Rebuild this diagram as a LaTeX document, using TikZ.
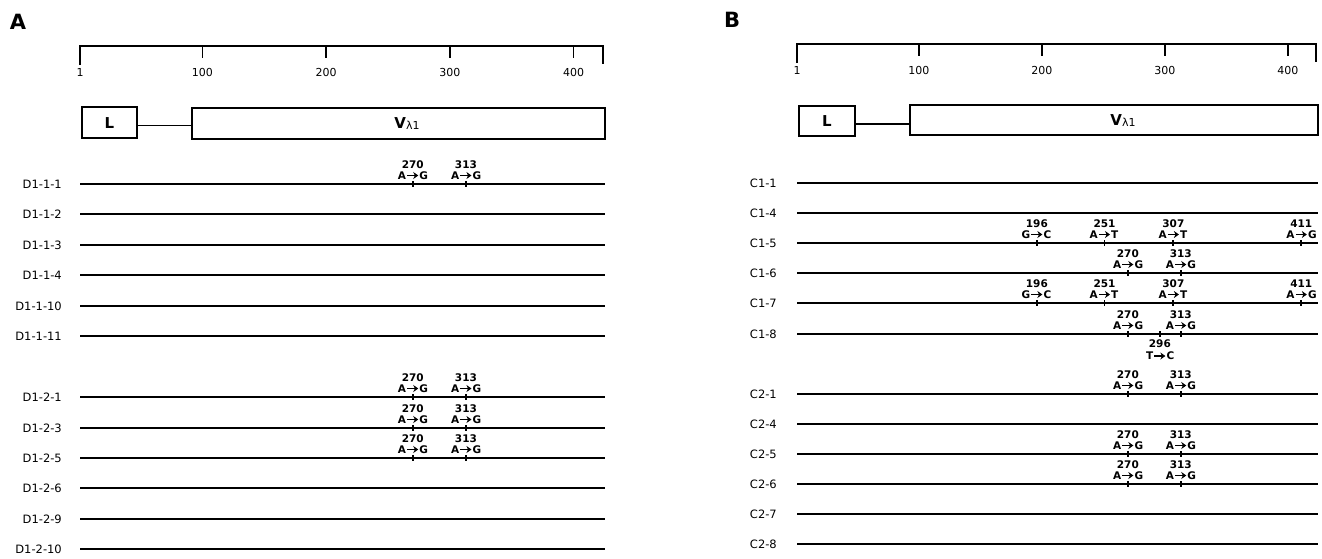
\documentclass[tikz,border=0pt]{standalone}
\usepackage{fontspec}
\setmainfont{DejaVu Sans}
\usetikzlibrary{arrows.meta,calc}
\newcommand\xa[1]{78.763+#1*1.237}
\newcommand\xb[1]{795.77+#1*1.23}
% #1 name, #2 x, #3 y, #4 number, #5 from, #6 to
\newcommand\mutup[6]{%
  \coordinate (#1) at ({#2},{#3});
  \draw[mtick] ({#2},{#3-3}) -- ({#2},{#3+3});
  \node[mnum] (#1n) at ({#2},{#3-19.5}) {#4};
  \node[mlet,anchor=east] (#1f) at ({#2-6},{#3-8.5}) {#5};
  \node[mlet,anchor=west] (#1t) at ({#2+6},{#3-8.5}) {#6};
  \draw[marr] (#1f.east) -- (#1t.west);
}
\newcommand\mutdown[6]{%
  \coordinate (#1) at ({#2},{#3});
  \draw[mtick] ({#2},{#3-3}) -- ({#2},{#3+3});
  \node[mnum] (#1n) at ({#2},{#3+10}) {#4};
  \node[mlet,anchor=east] (#1f) at ({#2-6},{#3+22}) {#5};
  \node[mlet,anchor=west] (#1t) at ({#2+6},{#3+22}) {#6};
  \draw[marr] (#1f.east) -- (#1t.west);
}
\begin{document}
\begin{tikzpicture}[x=1pt,y=-1pt,
  rowline/.style={line width=2pt},
  ruler/.style={line width=1.6pt},
  boxst/.style={draw,line width=1.6pt,inner sep=0pt},
  rlab/.style={font=\fontsize{11.5}{11.5}\selectfont,anchor=east,inner sep=0pt},
  tlab/.style={font=\fontsize{11}{11}\selectfont,inner sep=0pt},
  mnum/.style={font=\bfseries\fontsize{10.5}{10.5}\selectfont,inner sep=0pt},
  mlet/.style={font=\bfseries\fontsize{10.5}{10.5}\selectfont,inner sep=0.5pt},
  marr/.style={-{Stealth[length=5pt,width=7pt]},line width=1.6pt,shorten <=0.5pt,shorten >=0.5pt},
  mtick/.style={line width=1.8pt},
  panel/.style={font=\bfseries\fontsize{21}{21}\selectfont,inner sep=0pt},
  btext/.style={font=\bfseries\fontsize{15}{15}\selectfont,inner sep=0pt}]
\useasboundingbox (0,0) rectangle (1322,558);

% ---------------- Panel A ----------------
\node[panel] (pA) at (18,22) {A};
% ruler
\draw[ruler] ({\xa{1}},65) -- ({\xa{1}},46) -- (603,46) -- (603,64);
\foreach \p in {100,200,300,400} {
  \draw[ruler] ({\xa{\p}},46) -- ({\xa{\p}},58);
  \node[tlab] (tA\p) at ({\xa{\p}},72) {\p};
}
\node[tlab] (tA1) at ({\xa{1}},72) {1};
% gene map
\node[boxst,minimum width=55pt,minimum height=31pt] (LA) at (109.5,122.5) {};
\node[btext] (LAt) at (109.5,123) {L};
\node[boxst,minimum width=413pt,minimum height=31pt] (VA) at (398.5,123.5) {};
\node[btext] (VAt) at (407,124) {V\raisebox{-1pt}{\mdseries\fontsize{11}{11}\selectfont λ1}};
\draw[line width=1.6pt] ($(LA.east)+(0,3)$) -- ($(VA.west)+(0,2)$);
% rows
\foreach \k/\t in {0/D1-1-1,1/D1-1-2,2/D1-1-3,3/D1-1-4,4/D1-1-10,5/D1-1-11,
                   7/D1-2-1,8/D1-2-3,9/D1-2-5,10/D1-2-6,11/D1-2-9,12/D1-2-10} {
  \pgfmathsetmacro\yy{round(184+30.45*\k)}
  \node[rlab] (la\k) at (62,\yy) {\t};
  \coordinate (sa\k) at (80,\yy);
  \coordinate (ea\k) at (605,\yy);
  \draw[rowline] (sa\k) -- (ea\k);
}
\mutup{ma0a}{\xa{270}}{184}{270}{A}{G}
\mutup{ma0b}{\xa{313}}{184}{313}{A}{G}
\mutup{ma7a}{\xa{270}}{397}{270}{A}{G}
\mutup{ma7b}{\xa{313}}{397}{313}{A}{G}
\mutup{ma8a}{\xa{270}}{428}{270}{A}{G}
\mutup{ma8b}{\xa{313}}{428}{313}{A}{G}
\mutup{ma9a}{\xa{270}}{458}{270}{A}{G}
\mutup{ma9b}{\xa{313}}{458}{313}{A}{G}

% ---------------- Panel B ----------------
\node[panel] (pB) at (732,20) {B};
\draw[ruler] ({\xb{1}},63) -- ({\xb{1}},44) -- (1316,44) -- (1316,62);
\foreach \p in {100,200,300,400} {
  \draw[ruler] ({\xb{\p}},44) -- ({\xb{\p}},56);
  \node[tlab] (tB\p) at ({\xb{\p}},70) {\p};
}
\node[tlab] (tB1) at ({\xb{1}},70) {1};
\node[boxst,minimum width=56pt,minimum height=30pt] (LB) at (827,121) {};
\node[btext] (LBt) at (827,121.5) {L};
\node[boxst,minimum width=408pt,minimum height=30pt] (VB) at (1114,120) {};
\node[btext] (VBt) at (1123,121) {V\raisebox{-1pt}{\mdseries\fontsize{11}{11}\selectfont λ1}};
\draw[line width=1.6pt] ($(LB.east)+(0,3)$) -- ($(VB.west)+(0,4)$);
\foreach \k/\t in {0/C1-1,1/C1-4,2/C1-5,3/C1-6,4/C1-7,5/C1-8,
                   7/C2-1,8/C2-4,9/C2-5,10/C2-6,11/C2-7,12/C2-8} {
  \pgfmathsetmacro\yy{round(183+30.1*\k)}
  \node[rlab] (lb\k) at (777,\yy) {\t};
  \coordinate (sb\k) at (797,\yy);
  \coordinate (eb\k) at (1318,\yy);
  \draw[rowline] (sb\k) -- (eb\k);
}
% C1-5
\mutup{mb2a}{\xb{196}}{243}{196}{G}{C}
\mutup{mb2b}{\xb{251}}{243}{251}{A}{T}
\mutup{mb2c}{\xb{307}}{243}{307}{A}{T}
\mutup{mb2d}{\xb{411}}{243}{411}{A}{G}
% C1-6
\mutup{mb3a}{\xb{270}}{273}{270}{A}{G}
\mutup{mb3b}{\xb{313}}{273}{313}{A}{G}
% C1-7
\mutup{mb4a}{\xb{196}}{303}{196}{G}{C}
\mutup{mb4b}{\xb{251}}{303}{251}{A}{T}
\mutup{mb4c}{\xb{307}}{303}{307}{A}{T}
\mutup{mb4d}{\xb{411}}{303}{411}{A}{G}
% C1-8
\mutup{mb5a}{\xb{270}}{334}{270}{A}{G}
\mutup{mb5b}{\xb{313}}{334}{313}{A}{G}
\mutdown{mb5c}{\xb{296}}{334}{296}{T}{C}
% C2-1, C2-5, C2-6
\mutup{mb7a}{\xb{270}}{394}{270}{A}{G}
\mutup{mb7b}{\xb{313}}{394}{313}{A}{G}
\mutup{mb9a}{\xb{270}}{454}{270}{A}{G}
\mutup{mb9b}{\xb{313}}{454}{313}{A}{G}
\mutup{mb10a}{\xb{270}}{484}{270}{A}{G}
\mutup{mb10b}{\xb{313}}{484}{313}{A}{G}
\end{tikzpicture}
\end{document}
